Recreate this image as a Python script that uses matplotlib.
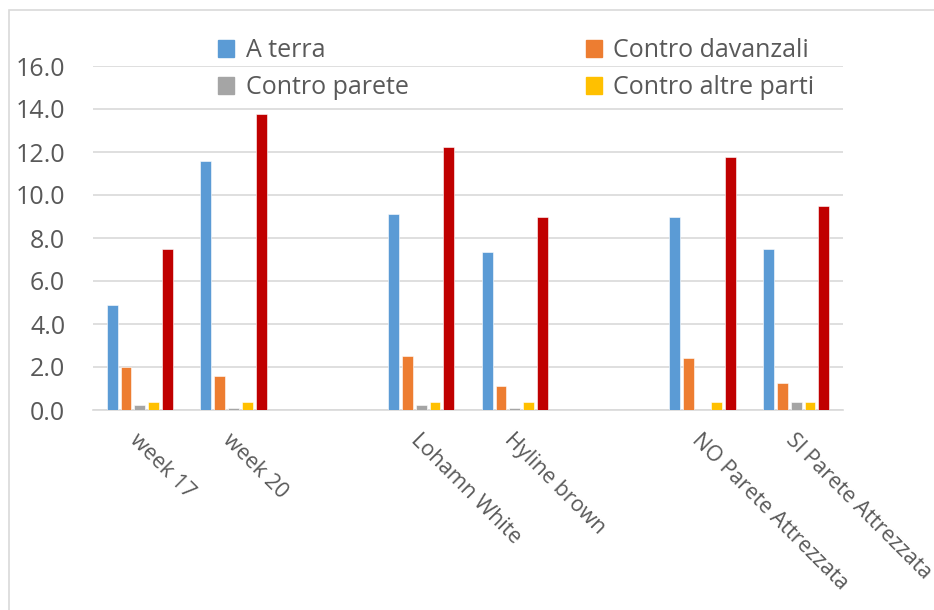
import numpy as np
import matplotlib
matplotlib.use('Agg')
from matplotlib import pyplot as plt
from matplotlib.patches import Patch, Rectangle

# categories ('' = empty slot between groups)
categories = ['week 17', 'week 20', '', 'Lohamn White', 'Hyline brown', '',
              'NO Parete Attrezzata', 'SI Parete Attrezzata']

a_terra = [4.9, 11.6, 9.1, 7.35, 9.0, 7.5]
contro_davanzali = [2.0, 1.6, 2.5, 1.1, 2.4, 1.25]
contro_parete = [0.25, 0.1, 0.25, 0.1, 0.0, 0.35]
contro_altre = [0.35, 0.35, 0.35, 0.35, 0.35, 0.35]
totale = [7.5, 13.75, 12.25, 9.0, 11.75, 9.5]

series = [
    ('A terra', a_terra, '#5B9BD5'),
    ('Contro davanzali', contro_davanzali, '#ED7D31'),
    ('Contro parete', contro_parete, '#A5A5A5'),
    ('Contro altre parti', contro_altre, '#FFC000'),
    (None, totale, '#C00000'),
]

plt.rcParams['font.family'] = ['Open Sans', 'DejaVu Sans']
text_color = '#595959'
grid_color = '#D9D9D9'

fig = plt.figure(figsize=(9.34, 6.10), dpi=100)
ax = fig.add_axes([93 / 934, 1 - 410 / 610, 750 / 934, 344 / 610])

# outer chart border (only top and left visible in the crop)
fig.patches.append(Rectangle((9 / 934, -0.1), 1.2, 1 - 10 / 610 + 0.1,
                             transform=fig.transFigure, fill=False,
                             edgecolor=grid_color, linewidth=1.2))

# x positions of the filled categories
x = np.array([i for i, c in enumerate(categories) if c])
width = 0.117
step = 0.148
for k, (label, vals, color) in enumerate(series):
    ax.bar(x + (k - 2) * step, vals, width, color=color, zorder=3,
           edgecolor='white', linewidth=0.4)

ax.set_xlim(-0.5, len(categories) - 0.5)
ax.set_ylim(0, 16)
ax.set_yticks(np.arange(0, 17, 2))
ax.set_yticklabels([f'{v:.1f}' for v in np.arange(0, 17, 2)])
ax.yaxis.grid(True, color=grid_color, linewidth=1.2, zorder=0)

ax.set_xticks(range(len(categories)))
ax.set_xticklabels(categories, rotation=-45, ha='left', va='top',
                   rotation_mode='anchor', fontsize=15.5)

for s in ['top', 'right', 'left']:
    ax.spines[s].set_visible(False)
ax.spines['bottom'].set_color(grid_color)
ax.spines['bottom'].set_linewidth(1.2)
ax.tick_params(axis='both', length=0, labelcolor=text_color)
ax.tick_params(axis='y', pad=20, labelsize=18)
ax.tick_params(axis='x', pad=14)

# legend, two columns, red series has no entry
order = [0, 2, 1, 3]
handles = [Patch(color=series[i][2]) for i in order]
labels = [series[i][0] for i in order]
fig.legend(handles, labels, loc='upper left', ncol=2, frameon=False,
           bbox_to_anchor=(218 / 934, 1 - 38 / 610), borderaxespad=0,
           borderpad=0, fontsize=18, labelcolor=text_color,
           handlelength=0.65, handleheight=0.65, handletextpad=0.45,
           columnspacing=7.1, labelspacing=0.5)

fig.savefig('out.png', dpi=100)
